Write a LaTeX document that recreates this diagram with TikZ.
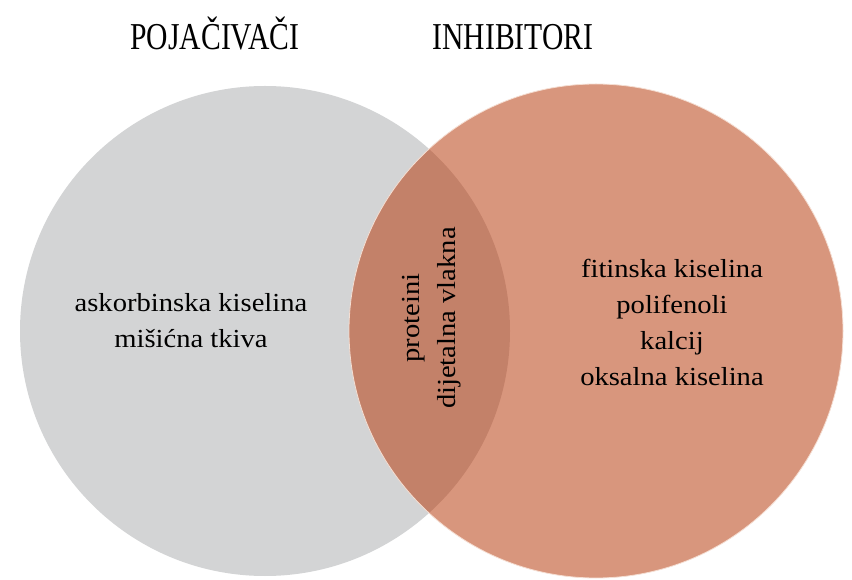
\documentclass[tikz,border=0pt]{standalone}
\usepackage{fontspec}
\setmainfont{Liberation Serif}
\newfontfamily\titlefont[FakeStretch=0.78]{Liberation Serif}
\newfontfamily\itemfont[FakeStretch=1.1]{Liberation Serif}
\usetikzlibrary{positioning}
\definecolor{setgray}{RGB}{211,212,213}
\definecolor{setorange}{RGB}{182,54,7}
\definecolor{setedge}{RGB}{245,222,210}

\begin{document}
\begin{tikzpicture}[
  x=1pt, y=1pt,
  set/.style={circle, inner sep=0pt, minimum size=#1},
  heading/.style={anchor=base, inner sep=0pt, font=\titlefont\fontsize{38}{40}\selectfont},
  item/.style={align=center, inner sep=0pt, font=\itemfont\fontsize{26}{36}\selectfont}
]
\useasboundingbox[fill=white] (0,0) rectangle (852,579);

\node[set=490pt, fill=setgray] (pojac) at (265,248) {};
\node[set=494pt, fill=setorange, fill opacity=0.52, draw=setedge, line width=0.8pt] (inhib) at (596,248) {};

\node[heading] (pojactitle) at (215,529) {POJAČIVAČI};
\node[heading] (inhibtitle) at (513,529) {INHIBITORI};

\node[item] (pojacitems) at (191,258) {askorbinska kiselina\\mišićna tkiva};
\node[item] (zajedno) at (432,261) [rotate=90] {proteini\\dijetalna vlakna};
\node[item] (inhibitems) at (672,257) {fitinska kiselina\\polifenoli\\kalcij\\oksalna kiselina};
\end{tikzpicture}
\end{document}
